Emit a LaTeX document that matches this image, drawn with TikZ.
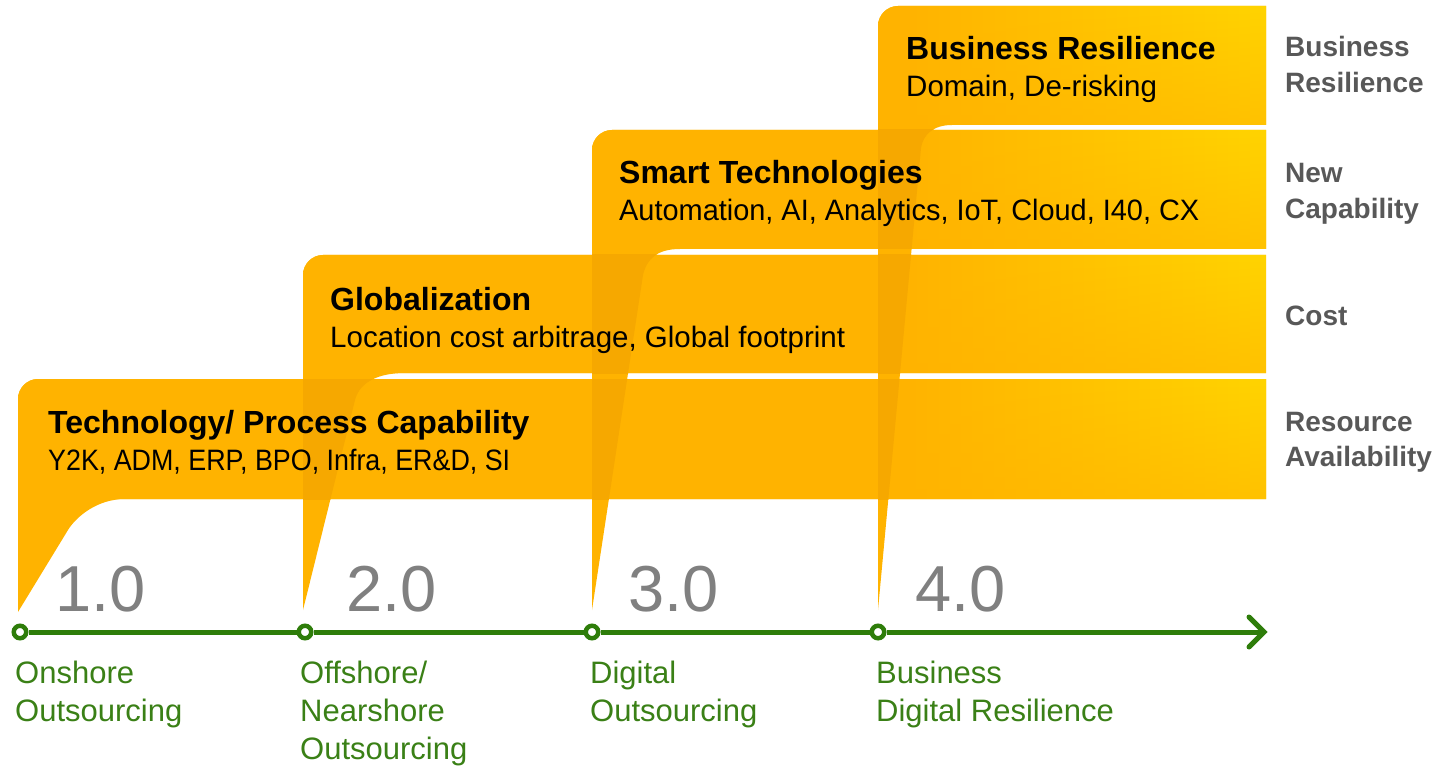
\documentclass[tikz,border=0pt]{standalone}
\usepackage{fontspec}
\usepackage{graphicx}
\setmainfont{Liberation Sans}
\usetikzlibrary{fadings}
\definecolor{bandO}{RGB}{255,179,0}
\definecolor{bandY}{RGB}{255,212,0}
\definecolor{bandD}{RGB}{246,168,0}
\definecolor{axisG}{RGB}{46,125,10}
\definecolor{labG}{RGB}{58,128,22}
\definecolor{verG}{RGB}{128,128,128}
\definecolor{sideG}{RGB}{88,88,88}
\pgfdeclarehorizontalshading{gradA}{100bp}{color(0bp)=(bandO); color(60.3bp)=(bandO); color(75bp)=(bandY); color(100bp)=(bandY)}
\pgfdeclarehorizontalshading{gradB}{100bp}{color(0bp)=(bandO); color(56bp)=(bandO); color(75bp)=(bandY); color(100bp)=(bandY)}
\pgfdeclarehorizontalshading{gradC}{100bp}{color(0bp)=(bandO); color(47.8bp)=(bandO); color(75bp)=(bandY); color(100bp)=(bandY)}
\pgfdeclarehorizontalshading{gradD}{100bp}{color(0bp)=(bandO); color(27.8bp)=(bandO); color(75bp)=(bandY); color(100bp)=(bandY)}
\tikzfading[name=downfade, top color=transparent!100, bottom color=transparent!45]
\begin{document}
\begin{tikzpicture}[x=1pt,y=-1pt,
  bandfill/.style={fill=bandO, draw=none},
  darkfill/.style={fill=bandD, draw=none},
  lowfade/.style={fill=bandO, draw=none, path fading=downfade},
  titletext/.style={anchor=base west, inner sep=0pt, font=\fontsize{32}{38}\selectfont\bfseries, text=black},
  subtext/.style={anchor=base west, inner sep=0pt, font=\fontsize{29.5}{36}\selectfont, text=black},
  vertext/.style={anchor=base west, inner sep=0pt, font=\fontsize{65}{70}\selectfont, text=verG},
  greentext/.style={anchor=base west, inner sep=0pt, font=\fontsize{31}{38}\selectfont, text=labG},
  sidetext/.style={anchor=base west, inner sep=0pt, font=\fontsize{28}{35.5}\selectfont\bfseries, text=sideG},
  dot/.style={circle, draw=axisG, fill=white, line width=4.5pt, minimum size=12.5pt, inner sep=0pt},
  axisline/.style={draw=axisG, line width=5pt},
  ]
\useasboundingbox (0,0) rectangle (1438,767);

% ---- shapes (band + tail)
\fill[bandfill] (18,612) -- (18,399) .. controls (18,388) and (27,379) .. (38,379)
  -- (1266,379) -- (1266,499) -- (125,499) .. controls (97,499) and (76,517) .. (68,530) -- cycle;
\fill[bandfill] (303,610) -- (303,275) .. controls (303,264) and (312,255) .. (323,255)
  -- (1266,255) -- (1266,373) -- (405,373) .. controls (380,373) and (360,381) .. (355,400) -- cycle;
\fill[bandfill] (592,610) -- (592,150) .. controls (592,139) and (601,130) .. (612,130)
  -- (1266,130) -- (1266,249) -- (680,249) .. controls (658,249) and (647,258) .. (643,275) -- cycle;
\fill[bandfill] (878,610) -- (878,26) .. controls (878,15) and (887,6) .. (898,6)
  -- (1266,6) -- (1266,125) -- (952,125) .. controls (933,125) and (923,135) .. (921,148) -- cycle;

% ---- gradients toward the right ends of the bands
\shade[shading=gradA] (18,499) -- (18,399) .. controls (18,388) and (27,379) .. (38,379) -- (1266,379) -- (1266,499) -- cycle;
\shade[shading=gradB] (303,373) -- (303,275) .. controls (303,264) and (312,255) .. (323,255) -- (1266,255) -- (1266,373) -- cycle;
\shade[shading=gradC] (592,249) -- (592,150) .. controls (592,139) and (601,130) .. (612,130) -- (1266,130) -- (1266,249) -- cycle;
\shade[shading=gradD] (878,125) -- (878,26) .. controls (878,15) and (887,6) .. (898,6) -- (1266,6) -- (1266,125) -- cycle;
\fill[lowfade] (900,379) rectangle (1266,499);
\fill[lowfade] (900,255) rectangle (1266,373);
\fill[lowfade] (900,130) rectangle (1266,249);
\fill[lowfade] (900,6) rectangle (1266,125);

% ---- darker overlaps of tails on lower bands
\begin{scope}
  \clip (18,379) rectangle (1266,499);
  \fill[darkfill] (303,373) -- (303,610) -- (355,400) .. controls (360,381) and (380,373) .. (405,373) -- cycle;
  \fill[darkfill] (592,249) -- (592,610) -- (643,275) .. controls (647,258) and (658,249) .. (680,249) -- cycle;
  \fill[darkfill] (878,125) -- (878,610) -- (921,148) .. controls (923,135) and (933,125) .. (952,125) -- cycle;
\end{scope}
\begin{scope}
  \clip (303,255) rectangle (1266,373);
  \fill[darkfill] (592,249) -- (592,610) -- (643,275) .. controls (647,258) and (658,249) .. (680,249) -- cycle;
  \fill[darkfill] (878,125) -- (878,610) -- (921,148) .. controls (923,135) and (933,125) .. (952,125) -- cycle;
\end{scope}
\begin{scope}
  \clip (592,130) rectangle (1266,249);
  \fill[darkfill] (878,125) -- (878,610) -- (921,148) .. controls (923,135) and (933,125) .. (952,125) -- cycle;
\end{scope}

% ---- band texts
\node[titletext] (t1) at (48,433) {Technology/ Process Capability};
\node[subtext]   (s1) at (48,470) {\scalebox{0.91}[1]{Y2K, ADM, ERP, BPO, Infra, ER\&D, SI}};
\node[titletext] (t2) at (330,311) {Globalization};
\node[subtext]   (s2) at (330,348) {Location cost arbitrage, Global footprint};
\node[titletext] (t3) at (619,184) {Smart Technologies};
\node[subtext]   (s3) at (619,221) {\scalebox{0.98}[1]{Automation, AI, Analytics, IoT, Cloud, I40, CX}};
\node[titletext] (t4) at (906,60) {Business Resilience};
\node[subtext]   (s4) at (906,97) {Domain, De-risking};

% ---- right-side labels
\node[sidetext] (r4) at (1285,57) {\begin{tabular}[t]{@{}l@{}}Business\\Resilience\end{tabular}};
\node[sidetext] (r3) at (1285,183) {\begin{tabular}[t]{@{}l@{}}New\\Capability\end{tabular}};
\node[sidetext] (r2) at (1285,326) {Cost};
\node[sidetext] (r1) at (1285,431) {\begin{tabular}[t]{@{}l@{}}Resource\\Availability\end{tabular}};

% ---- version numbers
\node[vertext] (v1) at (55,611) {1.0};
\node[vertext] (v2) at (346,611) {2.0};
\node[vertext] (v3) at (628,611) {3.0};
\node[vertext] (v4) at (915,611) {4.0};

% ---- axis
\node[dot] (c1) at (20,632) {};
\node[dot] (c2) at (305,632) {};
\node[dot] (c3) at (592,632) {};
\node[dot] (c4) at (878,632) {};
\coordinate (tip) at (1264,632);
\coordinate (barbA) at (1249,617);
\coordinate (barbB) at (1249,647);
\draw[axisline] (c1) -- (c2);
\draw[axisline] (c2) -- (c3);
\draw[axisline] (c3) -- (c4);
\draw[axisline] (c4) -- (tip);
\draw[axisline, line cap=round, line join=miter] (barbA) -- (tip) -- (barbB);

% ---- green labels
\node[greentext] (g1) at (15,683) {\begin{tabular}[t]{@{}l@{}}Onshore\\Outsourcing\end{tabular}};
\node[greentext] (g2) at (300,683) {\begin{tabular}[t]{@{}l@{}}Offshore/\\Nearshore\\Outsourcing\end{tabular}};
\node[greentext] (g3) at (590,683) {\begin{tabular}[t]{@{}l@{}}Digital\\Outsourcing\end{tabular}};
\node[greentext] (g4) at (876,683) {\begin{tabular}[t]{@{}l@{}}Business\\Digital Resilience\end{tabular}};
\end{tikzpicture}
\end{document}
